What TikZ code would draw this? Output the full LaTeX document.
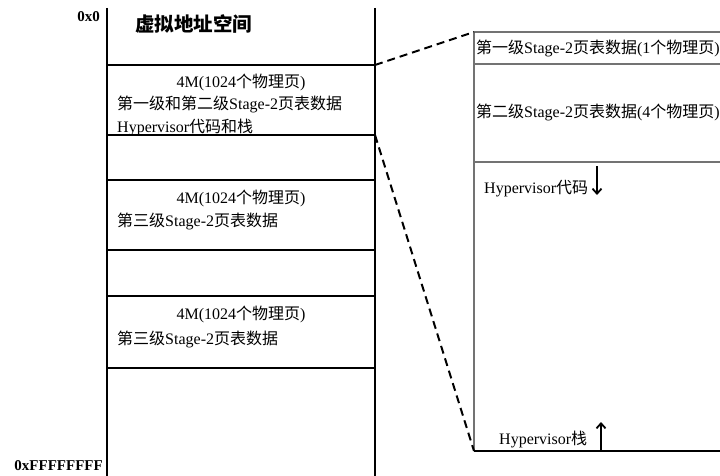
\documentclass[tikz,border=0pt]{standalone}
\usepackage{fontspec}
\setmainfont{Liberation Serif}
\newfontfamily\cjk{Noto Sans CJK SC}
\usetikzlibrary{arrows.meta}
\newcommand\zh[1]{{\cjk #1}}
\tikzset{
  txt/.style={inner sep=0pt, font=\fontsize{16}{19}\selectfont},
  addr/.style={inner sep=0pt, anchor=base east, font=\fontsize{15}{18}\selectfont\bfseries},
  col/.style={line width=2pt, black},
  sep/.style={line width=1.2pt, black},
  pan/.style={line width=1.4pt, black!55},
  link/.style={line width=2pt, dash pattern=on 8pt off 5pt},
  growarrow/.style={line width=1.8pt, -{Straight Barb[length=5pt,width=9pt]}}
}
\begin{document}
\begin{tikzpicture}[x=1pt,y=-1pt]
\useasboundingbox (0,0) rectangle (720,476);
% left column
\coordinate (ltop) at (107,8);
\coordinate (lbot) at (107,476);
\coordinate (rtop) at (375,8);
\coordinate (rbot) at (375,476);
\foreach \y/\n in {65/a,135/b,180/c,250/d,296/e,368/f}{
  \coordinate (l\n) at (107,\y);
  \coordinate (r\n) at (375,\y);
  \draw[sep] (l\n) -- (r\n);
}
\draw[col] (ltop) -- (lbot);
\draw[col] (rtop) -- (rbot);
% addresses and title
\node[addr] (a0) at (100,22) {0x0};
\node[addr] (a1) at (103,470) {0xFFFFFFFF};
\node[inner sep=0pt, anchor=base west, font=\fontsize{19.5}{22}\selectfont\cjk\bfseries] (title) at (135,31.5) {虚拟地址空间};
% box 1
\node[txt, anchor=base] (t1) at (241,88) {4M(1024\zh{个物理页})};
\node[txt, anchor=base west] (t2) at (117,110) {\zh{第一级和第二级}Stage-2\zh{页表数据}};
\node[txt, anchor=base west] (t3) at (117,132) {Hypervisor\zh{代码和栈}};
% box 2
\node[txt, anchor=base] (t4) at (241,203) {4M(1024\zh{个物理页})};
\node[txt, anchor=base west] (t5) at (117,226) {\zh{第三级}Stage-2\zh{页表数据}};
% box 3
\node[txt, anchor=base] (t6) at (241,319) {4M(1024\zh{个物理页})};
\node[txt, anchor=base west] (t7) at (117,344) {\zh{第三级}Stage-2\zh{页表数据}};
% right panel
\coordinate (p0) at (474,32);
\coordinate (p0r) at (722,32);
\coordinate (p1) at (474,64);
\coordinate (p1r) at (722,64);
\coordinate (p2) at (474,162);
\coordinate (p2r) at (722,162);
\coordinate (p3) at (474,451);
\coordinate (p3r) at (722,451);
\draw[pan] (p0r) -- (p0) -- (p3);
\draw[pan] (p1) -- (p1r);
\draw[pan] (p2) -- (p2r);
\draw[line width=1.4pt] (p3) -- (p3r);
\begin{scope}
\clip (0,0) rectangle (720,476);
\node[txt, anchor=base west] (q1) at (476,54) {\zh{第一级}Stage-2\zh{页表数据}(1\zh{个物理页})};
\node[txt, anchor=base west] (q2) at (476,118) {\zh{第二级}Stage-2\zh{页表数据}(4\zh{个物理页})};
\end{scope}
\node[txt, anchor=base west] (q3) at (484,193) {Hypervisor\zh{代码}};
\node[txt, anchor=base west] (q4) at (499,444) {Hypervisor\zh{栈}};
\coordinate (d0) at (597,166);
\coordinate (d1) at (597,195);
\draw[growarrow] (d0) -- (d1);
\coordinate (u0) at (601,451);
\coordinate (u1) at (601,422);
\draw[growarrow] (u0) -- (u1);
% dashed links
\draw[link] (ra) -- (p0);
\draw[link] (rb) -- (p3);
\end{tikzpicture}
\end{document}
